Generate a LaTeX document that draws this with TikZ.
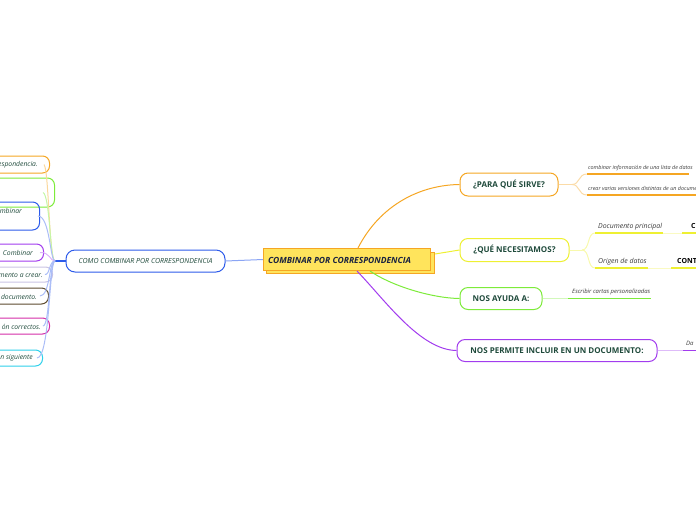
\documentclass[tikz,border=0pt]{standalone}
\usepackage{fontspec}
\setmainfont{Open Sans}
\definecolor{cOr}{HTML}{F5A623}
\definecolor{cYe}{HTML}{FFE45C}
\definecolor{cBl}{HTML}{2D5BEA}
\definecolor{cYl}{HTML}{EEF032}
\definecolor{cGr}{HTML}{7DEB3A}
\definecolor{cPu}{HTML}{A23CEE}
\definecolor{cTx}{HTML}{1F4A3B}
\definecolor{cNv}{HTML}{1A2340}
\definecolor{cLav}{HTML}{C9C3E3}
\definecolor{cBr}{HTML}{5C4A2E}
\definecolor{cMa}{HTML}{D42CA8}
\definecolor{cCy}{HTML}{2ED0EA}
\definecolor{cGt}{HTML}{3A3A3A}
\begin{document}
\begin{tikzpicture}[x=1pt,y=-1pt,
  mbox/.style={draw, rounded corners=8pt, line width=1pt, fill=white, inner sep=0pt,
    font=\fontsize{8}{9}\selectfont\bfseries, text=cTx},
  lbox/.style={draw, rounded corners=7pt, line width=1pt, inner sep=0pt, anchor=east},
  ltext/.style={font=\fontsize{6.8}{8}\selectfont\itshape, text=cTx, inner sep=0pt, anchor=east},
  small/.style={font=\fontsize{5.4}{6}\selectfont\itshape, text=cGt, inner sep=0pt, anchor=base west},
  mid/.style={font=\fontsize{6.9}{8}\selectfont\itshape, text=cGt, inner sep=0pt, anchor=base west},
  bld/.style={font=\fontsize{7}{8}\selectfont\bfseries, text=black, inner sep=0pt, anchor=base west},
  uline/.style={line width=1.6pt},
  conn/.style={line width=1pt}]
\useasboundingbox (0,0) rectangle (696,520);
\clip (0,0) rectangle (696,520);

% central node
\node[draw=cOr, fill=cYe, line width=1pt, minimum width=168pt, minimum height=21pt,
  anchor=north west, inner sep=0pt] (censh) at (266,252) {};
\node[draw=cOr, fill=cYe, line width=1pt, minimum width=167pt, minimum height=22pt,
  anchor=north west, inner sep=0pt] (cen) at (263,248) {};
\node[font=\fontsize{8.5}{9}\selectfont\bfseries\itshape, text=cNv, anchor=west, inner sep=0pt]
  (centxt) at (268,260) {COMBINAR POR CORRESPONDENCIA};

% left main node
\node[draw=cBl, rounded corners=9pt, line width=1pt, minimum width=159pt, minimum height=22pt,
  inner sep=0pt, font=\fontsize{7}{8}\selectfont\itshape, text=cTx] (como) at (145.5,261)
  {COMO COMBINAR POR CORRESPONDENCIA};
\draw[cBl!55, conn] (cen.west) -- (como.east);
\coordinate (hub) at (55,261);
\draw[cBl, line width=1.8pt] (como.west) -- (hub);

% left sub nodes
\node[lbox, draw=cOr, minimum width=80pt, minimum height=17pt] (l1) at (50,164.5) {};
\node[lbox, draw=cGr, minimum width=80pt, minimum height=29pt] (l2) at (55,192.5) {};
\node[lbox, draw=cBl, minimum width=80pt, minimum height=28pt] (l3) at (40,216) {};
\node[lbox, draw=cPu, minimum width=80pt, minimum height=17pt] (l4) at (44,252.5) {};
\node[lbox, draw=cLav, minimum width=80pt, minimum height=15pt] (l5) at (53,274.5) {};
\node[lbox, draw=cBr, minimum width=80pt, minimum height=16pt] (l6) at (49,296) {};
\node[lbox, draw=cMa, minimum width=80pt, minimum height=16pt] (l7) at (50,326) {};
\node[lbox, draw=cCy, minimum width=80pt, minimum height=16pt] (l8) at (43,358) {};

\node[ltext] (t1) at (38,164.5) {respondencia.};
\node[ltext] (t3) at (22,211) {ombinar};
\node[ltext] (t4) at (33,252.5) {Combinar};
\node[ltext] (t5) at (43,275) {mento a crear.};
\node[ltext] (t6) at (37,297) {documento.};
\node[ltext] (t7) at (41,327) {ón correctos.};
\node[ltext] (t8) at (33,358) {n siguiente};

\draw[cOr!45, conn] (hub) .. controls (49,261) and (49,170) .. ([xshift=-6pt]l1.east);
\draw[cGr!45, conn] (hub) .. controls (50,261) and (50,195) .. ([xshift=-12pt]l2.east);
\draw[cBl!40, conn] (hub) .. controls (50,261) and (50,216) .. ([xshift=-2pt]l3.east);
\draw[cPu!40, conn] (hub) .. controls (50,261) and (50,252) .. ([xshift=-4pt]l4.east);
\draw[cBl!40, conn] (hub) .. controls (49,261) and (50,275) .. ([xshift=-8pt]l5.east);
\draw[cBl!40, conn] (hub) .. controls (49,261) and (50,296) .. ([xshift=-9pt]l6.east);
\draw[cBl!40, conn] (hub) .. controls (49,261) and (50,326) .. ([xshift=-7pt]l7.east);
\draw[cBl!40, conn] (hub) .. controls (49,261) and (50,358) .. ([xshift=-6pt]l8.east);

% right main nodes
\node[mbox, draw=cOr, minimum width=98pt, minimum height=23pt] (pq) at (509,184.5) {¿PARA QUÉ SIRVE?};
\node[mbox, draw=cYl, minimum width=109pt, minimum height=23pt] (qn) at (514.5,250) {¿QUÉ NECESITAMOS?};
\node[mbox, draw=cGr, minimum width=82pt, minimum height=22pt] (na) at (501,298.5) {NOS AYUDA A:};
\node[mbox, draw=cPu, minimum width=200pt, minimum height=22pt] (np) at (557,350.5) {NOS PERMITE INCLUIR EN UN DOCUMENTO:};

\draw[cOr, conn] ([xshift=11pt]cen.north) .. controls (380,205) and (420,185) .. (pq.west);
\draw[cYl, conn] ([yshift=-2pt]censh.north east) -- (qn.west);
\draw[cGr, conn] ([xshift=23pt]cen.south) .. controls (390,285) and (430,298) .. (na.west);
\draw[cPu, conn] ([xshift=10pt]cen.south) .. controls (385,300) and (420,350) .. (np.west);

% PARA QUE SIRVE children
\coordinate (pqf) at (572,184.5);
\coordinate (pa1) at (587,174);
\coordinate (pb1) at (587,195);
\coordinate (pa2) at (689,174);
\coordinate (pb2) at (700,195);
\draw[cOr!40, conn] (pq.east) -- (pqf);
\draw[cOr!40, conn] (pqf) .. controls (580,184.5) and (578,174) .. (pa1);
\draw[cOr!40, conn] (pqf) .. controls (580,184.5) and (578,195) .. (pb1);
\draw[cOr, uline] (pa1) -- (pa2);
\draw[cOr, uline] (pb1) -- (pb2);
\node[small] (pat) at (588,169.5) {combinar información de una lista de datos};
\node[small] (pbt) at (588,190) {crear varias versiones distintas de un documento};

% QUE NECESITAMOS children
\coordinate (qf) at (582,250);
\coordinate (qa1) at (595,233);
\coordinate (qb1) at (595,268);
\coordinate (qa2) at (663,233);
\coordinate (qb2) at (648,268);
\coordinate (qa3) at (682,233);
\coordinate (qb3) at (671,268);
\coordinate (qa4) at (700,233);
\coordinate (qb4) at (700,268);
\draw[cYl!40, conn] (qn.east) -- (qf);
\draw[cYl!40, conn] (qf) .. controls (590,250) and (587,233) .. (qa1);
\draw[cYl!40, conn] (qf) .. controls (590,250) and (587,268) .. (qb1);
\draw[cYl, uline] (qa1) -- (qa2);
\draw[cYl, uline] (qb1) -- (qb2);
\draw[cYl!30, conn] (qa2) -- (qa3);
\draw[cYl!30, conn] (qb2) -- (qb3);
\draw[cYl, uline] (qa3) -- (qa4);
\draw[cYl, uline] (qb3) -- (qb4);
\node[mid] (qat) at (598,228.5) {Documento principal};
\node[mid] (qbt) at (598,263.5) {Origen de datos};
\node[bld] (qct) at (691,228.5) {C};
\node[bld] (qdt) at (677,263.5) {CONT};

% NOS AYUDA children
\coordinate (na1) at (568,298.5);
\coordinate (na2) at (651,298.5);
\draw[cGr!35, conn] (na.east) -- (na1);
\draw[cGr, uline] (na1) -- (na2);
\node[small, font=\fontsize{5.9}{6}\selectfont\itshape] (nat) at (572,293) {Escribir cartas personalizadas};

% NOS PERMITE children
\coordinate (np1) at (683,350.5);
\coordinate (np2) at (700,350.5);
\draw[cPu!35, conn] (np.east) -- (np1);
\draw[cPu, uline] (np1) -- (np2);
\node[small, font=\fontsize{6}{6}\selectfont\itshape] (npt) at (686,345.5) {Da};
\end{tikzpicture}
\end{document}
